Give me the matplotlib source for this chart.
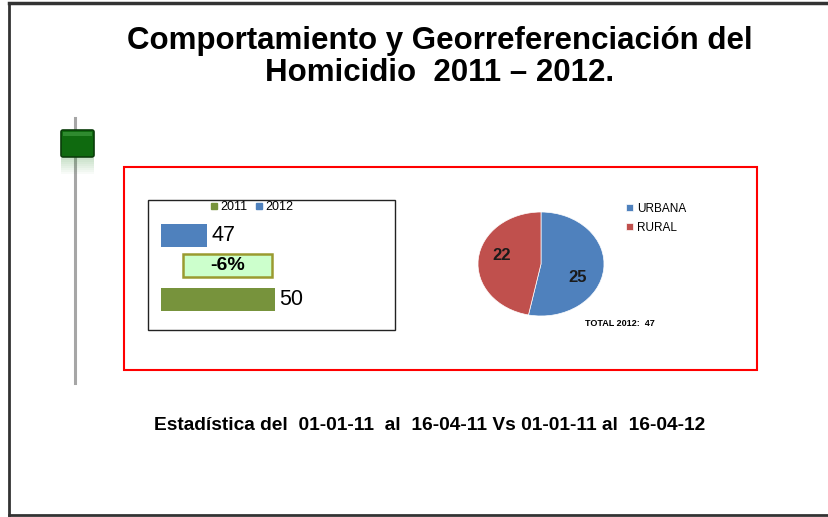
import matplotlib
matplotlib.use("Agg")
import matplotlib.pyplot as plt
from matplotlib.patches import Rectangle, FancyBboxPatch
from matplotlib.lines import Line2D

plt.rcParams["font.family"] = ["Liberation Sans", "DejaVu Sans"]

# data
TITLE = "Comportamiento y Georreferenciación del\nHomicidio  2011 – 2012."
FOOTER = "Estadística del  01-01-11  al  16-04-11 Vs 01-01-11 al  16-04-12"
years = ["2012", "2011"]
totals = [47, 50]
bar_colors = ["#4f81bd", "#77933c"]
change_label = "-6%"
zones = ["URBANA", "RURAL"]
zone_counts = [25, 22]
zone_colors = ["#4f81bd", "#c0504d"]
total_label = "TOTAL 2012:  47"

W, H = 829, 517
fig = plt.figure(figsize=(W / 100, H / 100), dpi=100)


def px_axes(x0, y0, x1, y1, **kw):
    """axes from pixel box (top-left origin)"""
    return fig.add_axes([x0 / W, 1 - y1 / H, (x1 - x0) / W, (y1 - y0) / H], **kw)


# slide background / decorations
bg = fig.add_axes([0, 0, 1, 1])
bg.set_xlim(0, W)
bg.set_ylim(H, 0)
bg.axis("off")
bg.plot([9, 9], [3, 515], color="#333333", lw=2)
bg.plot([9, W], [3, 3], color="#333333", lw=2.5)
bg.plot([9, W], [515, 515], color="#333333", lw=2)

bg.text(440, 57, TITLE, ha="center", va="center", fontsize=22.5,
        fontweight="bold", linespacing=1.05)

# slider ornament
bg.plot([75, 75], [118, 383], color="#a6a6a6", lw=2.2, zorder=1)
for i in range(8):
    bg.add_patch(Rectangle((61, 158 + i * 2), 33, 2, color="#2e8b2e",
                           alpha=0.25 * (1 - i / 8), lw=0, zorder=2))
bg.add_patch(FancyBboxPatch((61, 130), 33, 27, boxstyle="round,pad=0,rounding_size=2",
                            fc="#0f6a0f", ec="#0a3d0a", lw=1.2, zorder=3))
bg.add_patch(Rectangle((63, 132), 29, 4, color="#2f8a2f", lw=0, zorder=4))

# red frame and bar box
bg.add_patch(Rectangle((124, 167), 633, 203, fill=False, ec="#ff0000", lw=1.5))
bg.add_patch(Rectangle((148, 200), 247, 130, fill=False, ec="#222222", lw=1))

bg.text(430, 425, FOOTER, ha="center", va="center", fontsize=13.8, fontweight="bold")

# bar chart
ax = px_axes(161, 215, 395, 320)
bars = ax.barh([0, 1], totals, height=0.36, color=bar_colors)
ax.set_xlim(45, 55.26)
ax.set_ylim(1.33, -0.33)
ax.axis("off")
for b, v in zip(bars, totals):
    ax.text(v + 0.2, b.get_y() + b.get_height() / 2, str(v), va="center",
            ha="left", fontsize=15.5)
ax.add_patch(Rectangle((45.96, 0.29), 3.9, 0.36, fc="#ccffcc", ec="#9a9a30", lw=1.8))
ax.text(47.91, 0.47, change_label, ha="center", va="center", fontsize=14,
        fontweight="bold")
handles = [Line2D([], [], marker="s", ls="", color=bar_colors[1], markersize=5),
           Line2D([], [], marker="s", ls="", color=bar_colors[0], markersize=5)]
fig.legend(handles, ["2011", "2012"], loc="center", ncol=2, frameon=False,
           bbox_to_anchor=(251 / W, 1 - 207 / H), fontsize=9,
           handlelength=0.8, handletextpad=0.1, columnspacing=0.5)

# pie chart
pa = px_axes(478, 212, 604, 316)
wedges, _, autotexts = pa.pie(zone_counts, colors=zone_colors, startangle=90,
                              counterclock=False, autopct=lambda p: f"{p * sum(zone_counts) / 100:.0f}",
                              pctdistance=0.6,
                              wedgeprops=dict(lw=0.5, ec="white"),
                              textprops=dict(fontsize=12, fontweight="bold", color="#1a1a1a"))
pa.set_aspect("auto")
pa.set_xlim(-1, 1)
pa.set_ylim(-1, 1)
autotexts[0].set_position((0.58, -0.25))
autotexts[1].set_position((-0.62, 0.17))
fig.legend(wedges, zones, loc="upper left", bbox_to_anchor=(615 / W, 1 - 192 / H),
           frameon=False, fontsize=8.5, handlelength=0.6, handleheight=0.6,
           handletextpad=0.4, labelspacing=0.6)
bg.text(585, 324, total_label, ha="left", va="center", fontsize=6.5, fontweight="bold")

fig.savefig("out.png", dpi=100)
